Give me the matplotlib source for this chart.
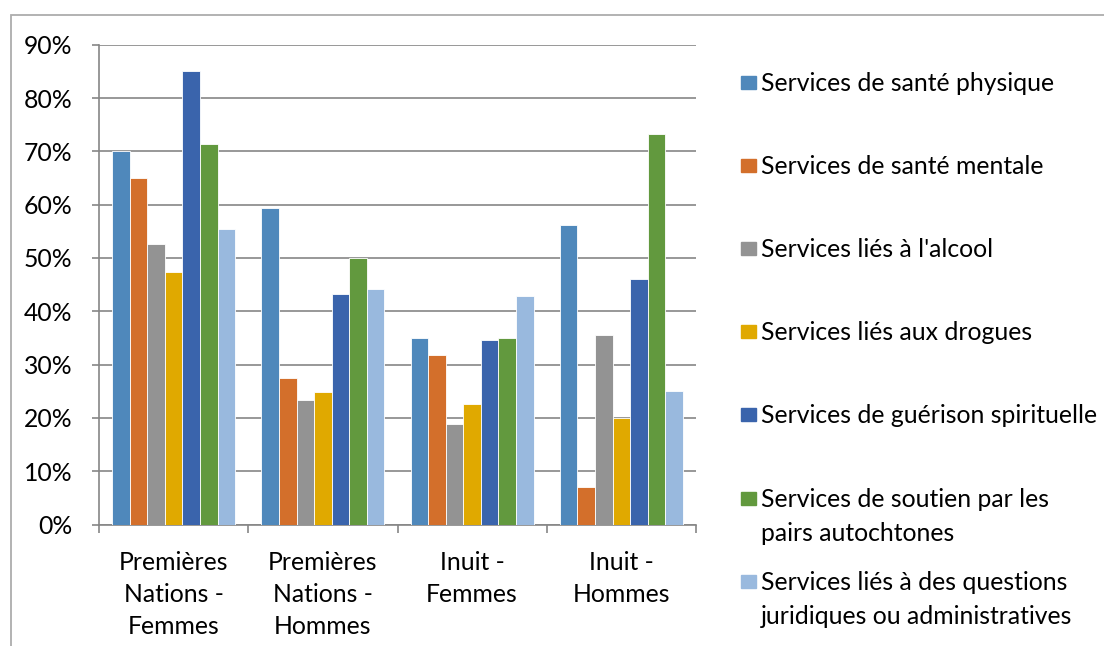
import matplotlib.pyplot as plt
import numpy as np
from matplotlib.patches import Rectangle
from matplotlib.ticker import FuncFormatter

plt.rcParams['font.family'] = ['Lato', 'DejaVu Sans']

groups = ["Premières\nNations -\nFemmes", "Premières\nNations -\nHommes",
          "Inuit -\nFemmes", "Inuit -\nHommes"]

series = [
    "Services de santé physique",
    "Services de santé mentale",
    "Services liés à l'alcool",
    "Services liés aux drogues",
    "Services de guérison spirituelle",
    "Services de soutien par les\npairs autochtones",
    "Services liés à des questions\njuridiques ou administratives",
]

sante_physique = [70.0, 59.3, 35.0, 56.1]
sante_mentale = [65.0, 27.4, 31.8, 7.0]
alcool = [52.6, 23.3, 18.9, 35.6]
drogues = [47.3, 24.9, 22.6, 20.0]
guerison = [85.0, 43.3, 34.6, 46.1]
soutien_pairs = [71.4, 50.0, 34.9, 73.2]
juridique = [55.5, 44.1, 42.8, 25.0]

values = [sante_physique, sante_mentale, alcool, drogues,
          guerison, soutien_pairs, juridique]
colors = ["#4F88BB", "#D36F2B", "#939393", "#E0A900",
          "#3A64AC", "#62993E", "#99B9DE"]

grid_col = "#868686"
fs = 17.8

fig = plt.figure(figsize=(11.04, 6.46), dpi=100)
ax = fig.add_axes([99 / 1104, 1 - 524.5 / 646, (696 - 99) / 1104, (524.5 - 44.7) / 646])

x = np.arange(len(groups))
w = 1 / 8.5
for j, (vals, col) in enumerate(zip(values, colors)):
    ax.bar(x + (j - 3) * w, vals, w, color=col, edgecolor="white",
           linewidth=0.6, zorder=3)

ax.set_xlim(-0.5, len(groups) - 0.5)
ax.set_ylim(0, 90)
ax.set_yticks(np.arange(0, 91, 10))
ax.yaxis.set_major_formatter(FuncFormatter(lambda v, p: f"{v:.0f}%"))
ax.grid(axis="y", color=grid_col, linewidth=1.2, zorder=0)

ax.set_xticks(x)
ax.set_xticklabels(groups, linespacing=1.47)
ax.set_xticks(np.arange(-0.5, len(groups)), minor=True)
ax.tick_params(axis="x", which="major", length=0, pad=19, labelsize=fs)
ax.tick_params(axis="x", which="minor", length=6, width=1.2, color=grid_col)
ax.tick_params(axis="y", length=5, width=1.2, color=grid_col, pad=14, labelsize=fs)

for s in ["top", "right"]:
    ax.spines[s].set_visible(False)
for s in ["left", "bottom"]:
    ax.spines[s].set_color(grid_col)
    ax.spines[s].set_linewidth(1.2)

# legend drawn by hand so the swatch sits beside the first line of text
leg_y = [82, 165, 248, 331, 414, 498, 581]
for name, col, yy in zip(series, colors, leg_y):
    fy = 1 - yy / 646
    fig.patches.append(Rectangle((741 / 1104, fy - 6.5 / 646), 15 / 1104, 13 / 646,
                                 transform=fig.transFigure, color=col))
    fig.text(761 / 1104, fy + 10 / 646, name, fontsize=fs, va="top",
             ha="left", linespacing=1.6)

# chart frame
fig.patches.append(Rectangle((11 / 1104, -0.1), 1.2, 1 - 15 / 646 + 0.1,
                             transform=fig.transFigure, fill=False,
                             edgecolor="#ADADAD", linewidth=1.3))

fig.savefig("out.png", dpi=100)
